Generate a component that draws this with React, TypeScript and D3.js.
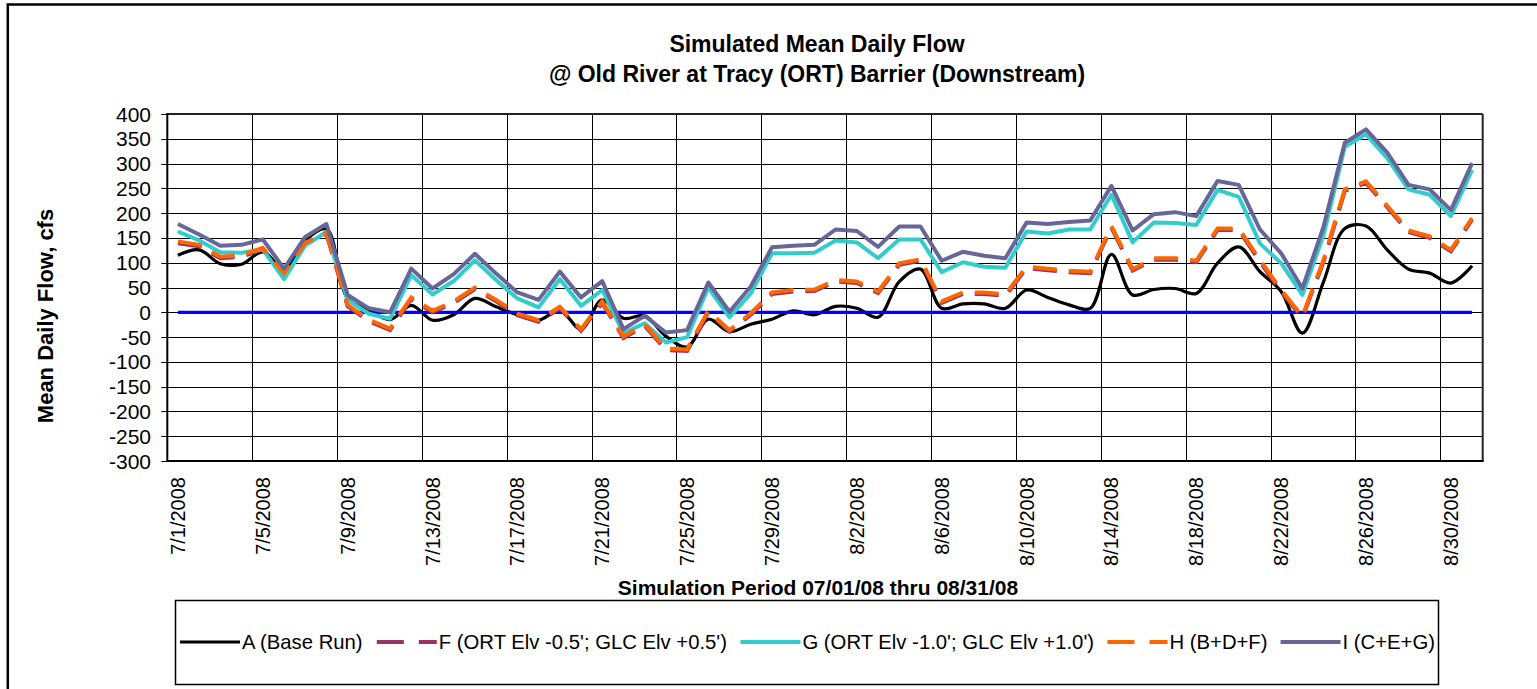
import React from 'react';
import * as d3 from 'd3';

// Categories: daily, 7/1/2008 .. 8/31/2008
const categories: string[] = d3
  .timeDay.range(new Date(2008, 6, 1), new Date(2008, 8, 1))
  .map((d) => d3.timeFormat('%-m/%-d/%Y')(d));

const tickLabels = [
  '7/1/2008', '7/5/2008', '7/9/2008', '7/13/2008', '7/17/2008', '7/21/2008',
  '7/25/2008', '7/29/2008', '8/2/2008', '8/6/2008', '8/10/2008', '8/14/2008',
  '8/18/2008', '8/22/2008', '8/26/2008', '8/30/2008',
];

const yTicks = [-300, -250, -200, -150, -100, -50, 0, 50, 100, 150, 200, 250, 300, 350, 400];

// A (Base Run)
const seriesA = [
  115, 126, 98, 97, 122, 88, 145, 168, 28, 5,
  -15, 14, -16, -5, 28, 11, -5, -16, 4, -34,
  25, -12, -7, -48, -70, -14, -39, -24, -14, 3,
  -5, 12, 8, -10, 62, 87, 8, 17, 17, 8,
  45, 30, 15, 8, 117, 35, 46, 48, 38, 99,
  132, 82, 42, -42, 62, 169, 174, 126, 87, 79,
  59, 94,
];
// F (ORT Elv -0.5'; GLC Elv +0.5')
const seriesF = [
  139, 133, 109, 112, 127, 76, 137, 158, 12, -18,
  -36, 27, 0, 19, 47, 22, -6, -19, 8, -37,
  19, -52, -27, -76, -78, 0, -39, -5, 37, 42,
  43, 62, 59, 39, 96, 104, 19, 37, 37, 33,
  89, 85, 81, 79, 171, 84, 106, 106, 101, 166,
  166, 102, 41, -11, 102, 245, 261, 212, 162, 150,
  123, 187,
];
// G (ORT Elv -1.0'; GLC Elv +1.0')
const seriesG = [
  163, 145, 121, 120, 127, 67, 135, 162, 25, -3,
  -13, 75, 36, 63, 105, 65, 28, 10, 67, 13,
  45, -42, -22, -61, -50, 50, -10, 38, 119, 119,
  120, 145, 141, 109, 147, 147, 81, 101, 92, 90,
  163, 159, 167, 167, 237, 141, 181, 180, 176, 247,
  233, 139, 99, 35, 156, 334, 359, 311, 248, 237,
  194, 287,
];
// H (B+D+F)
const seriesH = [
  143, 136, 112, 115, 130, 79, 140, 161, 15, -15,
  -33, 30, 3, 22, 50, 25, -3, -16, 11, -34,
  22, -49, -24, -73, -75, 3, -36, -2, 40, 45,
  46, 65, 62, 42, 99, 107, 22, 40, 40, 36,
  92, 88, 84, 82, 174, 87, 109, 109, 104, 169,
  169, 106, 45, -8, 106, 248, 264, 215, 165, 153,
  126, 190,
];
// I (C+E+G)
const seriesI = [
  178, 157, 134, 136, 147, 88, 152, 178, 35, 8,
  0, 88, 48, 77, 118, 78, 40, 25, 82, 30,
  63, -34, -7, -41, -36, 60, 1, 52, 131, 134,
  136, 167, 164, 132, 173, 173, 104, 122, 114, 109,
  181, 178, 182, 185, 255, 165, 198, 202, 194, 265,
  257, 167, 119, 48, 173, 342, 369, 322, 257, 248,
  206, 301,
];
// zero reference line
const seriesZero = [
  0, 0, 0, 0, 0, 0, 0, 0, 0, 0, 0, 0, 0, 0, 0, 0, 0, 0, 0, 0, 0,
  0, 0, 0, 0, 0, 0, 0, 0, 0, 0, 0, 0, 0, 0, 0, 0, 0, 0, 0, 0, 0,
  0, 0, 0, 0, 0, 0, 0, 0, 0, 0, 0, 0, 0, 0, 0, 0, 0, 0, 0, 0,
];

const legendLabels = [
  'A (Base Run)',
  "F (ORT Elv -0.5'; GLC Elv +0.5')",
  "G (ORT Elv -1.0'; GLC Elv +1.0')",
  'H (B+D+F)',
  'I (C+E+G)',
];
const legendColors = ['#000000', '#993366', '#33CCCC', '#FF6600', '#666699'];
const legendDashes = ['', '27,15', '', '27,15', ''];

const FONT = "'Liberation Sans', Arial, sans-serif";
const LEGEND_FS = 20.3;

function measure(text: string, size: number): number {
  if (typeof document === 'undefined') return text.length * size * 0.5;
  const c = document.createElement('canvas');
  const ctx = c.getContext('2d');
  if (!ctx) return text.length * size * 0.5;
  ctx.font = `${size}px 'Liberation Sans', Arial, sans-serif`;
  return ctx.measureText(text).width;
}

export default function App() {
  const W = 1537;
  const H = 689;
  const left = 167.3;
  const right = 1482.7;
  const top = 114;
  const bottom = 461;

  const x = d3.scaleBand<string>().domain(categories).range([left, right]);
  const bw = x.bandwidth();
  const cx = (i: number) => (x(categories[i]) as number) + bw / 2;
  const y = d3.scaleLinear().domain([-300, 400]).range([bottom, top]);

  const straight = d3.line<number>().x((_, i) => cx(i)).y((d) => y(d));
  const smooth = d3
    .line<number>()
    .x((_, i) => cx(i))
    .y((d) => y(d))
    .curve(d3.curveCatmullRom.alpha(0.5));

  const crisp = (v: number) => Math.round(v) + 0.5;

  const vGridIdx = categories.map((_, i) => i).filter((i) => i % 4 === 0 && i > 0);

  // legend layout: symbols 60px, 2px to text, equal gaps, spanning 180 -> 1435
  const symW = 60;
  const symGap = 2;
  const legStart = 180;
  const legEnd = 1435;
  const widths = legendLabels.map((l) => measure(l, LEGEND_FS));
  const used = widths.reduce((a, b) => a + b, 0) + legendLabels.length * (symW + symGap);
  const gap = Math.max(6, (legEnd - legStart - used) / (legendLabels.length - 1));
  let cursor = legStart;
  const legendPos = widths.map((w) => {
    const p = cursor;
    cursor += symW + symGap + w + gap;
    return p;
  });

  return (
    <div style={{ position: 'absolute', left: 0, top: 0 }}>
      <svg width={W} height={H} style={{ display: 'block', background: '#fff' }}>
        <rect x={0} y={0} width={W} height={H} fill="#fff" />
        {/* outer chart border */}
        <rect x={7.8} y={4.5} width={W + 20} height={H + 20} fill="none" stroke="#000" strokeWidth={2.5} />

        {/* title */}
        <text x={817} y={51.5} textAnchor="middle" fontFamily={FONT} fontWeight="bold" fontSize={23}>
          Simulated Mean Daily Flow
        </text>
        <text x={817} y={82} textAnchor="middle" fontFamily={FONT} fontWeight="bold" fontSize={23}>
          @ Old River at Tracy (ORT) Barrier (Downstream)
        </text>

        {/* horizontal grid */}
        {yTicks.map((t) => (
          <line key={'hg' + t} x1={left} x2={right} y1={crisp(y(t))} y2={crisp(y(t))} stroke="#000" strokeWidth={1} />
        ))}
        {/* vertical grid */}
        {vGridIdx.map((i) => (
          <line
            key={'vg' + i}
            x1={crisp(x(categories[i]) as number)}
            x2={crisp(x(categories[i]) as number)}
            y1={top}
            y2={bottom}
            stroke="#000"
            strokeWidth={1}
          />
        ))}
        {/* tick marks on the category axis (crossing at 0) */}
        {vGridIdx.map((i) => (
          <line
            key={'xt' + i}
            x1={crisp(x(categories[i]) as number)}
            x2={crisp(x(categories[i]) as number)}
            y1={y(0)}
            y2={y(0) + 6}
            stroke="#000"
            strokeWidth={1}
          />
        ))}

        {/* plot frame */}
        <line x1={left} x2={right} y1={top} y2={top} stroke="#222" strokeWidth={2} />
        <line x1={right} x2={right} y1={top} y2={bottom} stroke="#222" strokeWidth={2} />
        <line x1={left} x2={right + 1} y1={bottom} y2={bottom} stroke="#000" strokeWidth={2} />
        <line x1={left} x2={left} y1={top - 1} y2={bottom + 1} stroke="#000" strokeWidth={2} />

        {/* y ticks & labels */}
        {yTicks.map((t) => (
          <g key={'yt' + t}>
            <line x1={left - 6} x2={left} y1={crisp(y(t))} y2={crisp(y(t))} stroke="#000" strokeWidth={1} />
            <text x={151} y={y(t)} dy="0.36em" textAnchor="end" fontFamily={FONT} fontSize={21}>
              {t}
            </text>
          </g>
        ))}

        {/* x tick labels */}
        {categories.map((c, i) =>
          tickLabels.includes(c) ? (
            <text
              key={'xl' + c}
              transform={`translate(${cx(i)},477) rotate(-90)`}
              dy="0.35em"
              textAnchor="end"
              fontFamily={FONT}
              fontSize={20}
            >
              {c}
            </text>
          ) : null
        )}

        {/* axis titles */}
        <text
          transform={`translate(45,316) rotate(-90)`}
          dy="0.35em"
          textAnchor="middle"
          fontFamily={FONT}
          fontWeight="bold"
          fontSize={22}
        >
          Mean Daily Flow, cfs
        </text>
        <text x={818} y={595} textAnchor="middle" fontFamily={FONT} fontWeight="bold" fontSize={21}>
          Simulation Period 07/01/08 thru 08/31/08
        </text>

        {/* series */}
        <path d={smooth(seriesA) || ''} fill="none" stroke="#000" strokeWidth={3.2} strokeLinejoin="round" />
        <path d={straight(seriesZero) || ''} fill="none" stroke="#0000FF" strokeWidth={3.2} />
        <path
          d={straight(seriesF) || ''}
          fill="none"
          stroke="#993366"
          strokeWidth={4}
          strokeDasharray="24,12"
        />
        <path d={straight(seriesG) || ''} fill="none" stroke="#33CCCC" strokeWidth={4} strokeLinejoin="round" />
        <path
          d={straight(seriesH) || ''}
          fill="none"
          stroke="#FF6600"
          strokeWidth={4}
          strokeDasharray="24,12"
        />
        <path d={straight(seriesI) || ''} fill="none" stroke="#666699" strokeWidth={4} strokeLinejoin="round" />

        {/* legend */}
        <rect x={175.5} y={600.5} width={1263} height={84} fill="#fff" stroke="#000" strokeWidth={1.5} />
        {legendLabels.map((label, k) => (
          <g key={label}>
            <line
              x1={legendPos[k]}
              x2={legendPos[k] + symW}
              y1={642}
              y2={642}
              stroke={legendColors[k]}
              strokeWidth={k === 0 ? 3.2 : 4}
              strokeDasharray={legendDashes[k] || undefined}
            />
            <text x={legendPos[k] + symW + symGap} y={642} dy="0.36em" fontFamily={FONT} fontSize={LEGEND_FS}>
              {label}
            </text>
          </g>
        ))}
      </svg>
    </div>
  );
}
